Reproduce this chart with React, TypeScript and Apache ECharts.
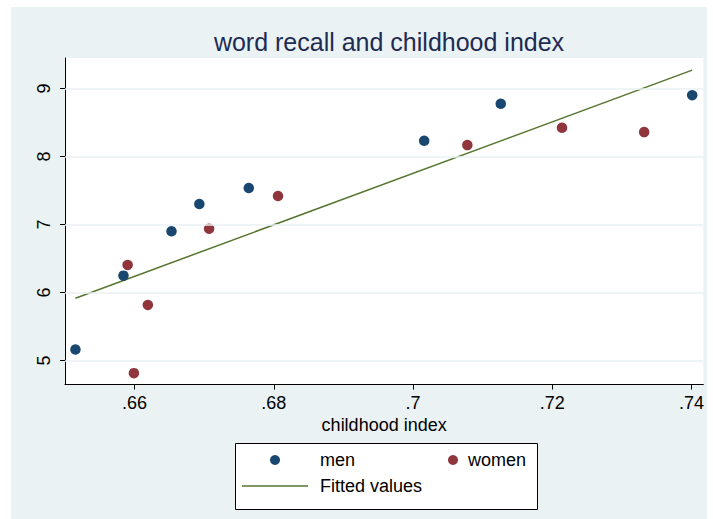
import React, { useEffect, useRef } from "react";
import * as echarts from "echarts";

const menX = [0.6515, 0.6584, 0.6653, 0.6693, 0.6764, 0.7016, 0.7126, 0.7401];
const menY = [5.16, 6.247, 6.899, 7.3, 7.535, 8.23, 8.774, 8.901];
const womenX = [0.659, 0.6599, 0.6619, 0.6707, 0.6806, 0.7078, 0.7214, 0.7332];
const womenY = [6.404, 4.813, 5.816, 6.937, 7.418, 8.167, 8.421, 8.358];
const fitX = [0.6515, 0.7401];
const fitY = [5.915, 9.27];
const xTicks = [0.66, 0.68, 0.7, 0.72, 0.74];
const yTicks = [5, 6, 7, 8, 9];

const FONT = "'Liberation Sans', Arial, sans-serif";

export default function App() {
  const ref = useRef<HTMLDivElement>(null);
  useEffect(() => {
    if (!ref.current) return;
    const chart = echarts.init(ref.current, undefined, { renderer: "svg" });
    const txt = { fontSize: 18, color: "#000", fontFamily: FONT };
    const legendCommon = {
      padding: 0,
      selectedMode: false,
    };
    chart.setOption({
      animation: false,
      backgroundColor: "#EAF2F3",
      textStyle: { fontFamily: FONT },
      title: {
        text: "word recall and childhood index",
        left: 373,
        textAlign: "center",
        top: 17,
        textStyle: { fontSize: 25, fontWeight: "normal", color: "#1e2b52", fontFamily: FONT },
      },
      grid: {
        left: 54,
        top: 51,
        right: 1,
        bottom: 134.5,
        show: true,
        backgroundColor: "#ffffff",
        borderWidth: 0,
      },
      xAxis: {
        type: "value",
        min: 0.65,
        max: 0.7417,
        name: "childhood index",
        nameLocation: "middle",
        nameGap: 31,
        nameTextStyle: { ...txt },
        axisLine: { show: true, onZero: false, lineStyle: { color: "#000", width: 1 } },
        axisTick: { show: true, length: 5, customValues: xTicks, lineStyle: { color: "#000" } },
        axisLabel: {
          ...txt,
          customValues: xTicks,
          margin: 9,
          formatter: (v: number) => String(+v.toFixed(2)).replace(/^0\./, "."),
        },
        splitLine: { show: false },
      },
      yAxis: {
        type: "value",
        min: 4.646,
        max: 9.448,
        axisLine: { show: true, onZero: false, lineStyle: { color: "#000", width: 1 } },
        axisTick: { show: true, length: 5, customValues: yTicks, lineStyle: { color: "#000" } },
        axisLabel: {
          ...txt,
          customValues: yTicks,
          rotate: 90,
          margin: 12,
        },
        splitLine: { show: false },
      },
      legend: [
        {
          ...legendCommon,
          data: [{ name: "men", icon: "circle" }],
          left: 259,
          top: 444,
          itemWidth: 10,
          itemHeight: 10,
          textStyle: { ...txt, padding: [0, 0, 0, 35] },
        },
        {
          ...legendCommon,
          data: [{ name: "women", icon: "circle" }],
          left: 437,
          top: 444,
          itemWidth: 10,
          itemHeight: 10,
          textStyle: { ...txt, padding: [0, 0, 0, 5] },
        },
        {
          ...legendCommon,
          data: [{ name: "Fitted values", icon: "rect" }],
          left: 231,
          top: 470,
          itemWidth: 66,
          itemHeight: 1.5,
          textStyle: { ...txt, padding: [0, 0, 0, 7] },
        },
      ],
      graphic: [
        {
          type: "rect",
          left: 224,
          top: 436,
          shape: { width: 302, height: 66 },
          style: { fill: "#fff", stroke: "#000", lineWidth: 1 },
          z: -1,
        },
      ],
      series: [
        {
          name: "grid",
          type: "line",
          data: [],
          silent: true,
          markLine: {
            silent: true,
            symbol: "none",
            label: { show: false },
            lineStyle: { color: "#EAF2F3", width: 1.5, type: "solid" },
            data: yTicks.map((v) => ({ yAxis: v })),
          },
        },
        {
          name: "men",
          type: "scatter",
          symbol: "circle",
          symbolSize: 10.5,
          itemStyle: { color: "#1a476f", opacity: 1 },
          data: menX.map((x, i) => [x, menY[i]]),
          z: 3,
        },
        {
          name: "women",
          type: "scatter",
          symbol: "circle",
          symbolSize: 10.5,
          itemStyle: { color: "#90353b", opacity: 1 },
          data: womenX.map((x, i) => [x, womenY[i]]),
          z: 3,
        },
        {
          name: "Fitted values",
          type: "line",
          symbol: "none",
          showSymbol: false,
          lineStyle: { color: "#55752f", width: 1.5 },
          itemStyle: { color: "#55752f" },
          data: fitX.map((x, i) => [x, fitY[i]]),
          z: 2,
        },
      ],
    });
    return () => chart.dispose();
  }, []);
  return (
    <div
      ref={ref}
      style={{ position: "absolute", left: 11, top: 7, width: 696, height: 512 }}
    />
  );
}
